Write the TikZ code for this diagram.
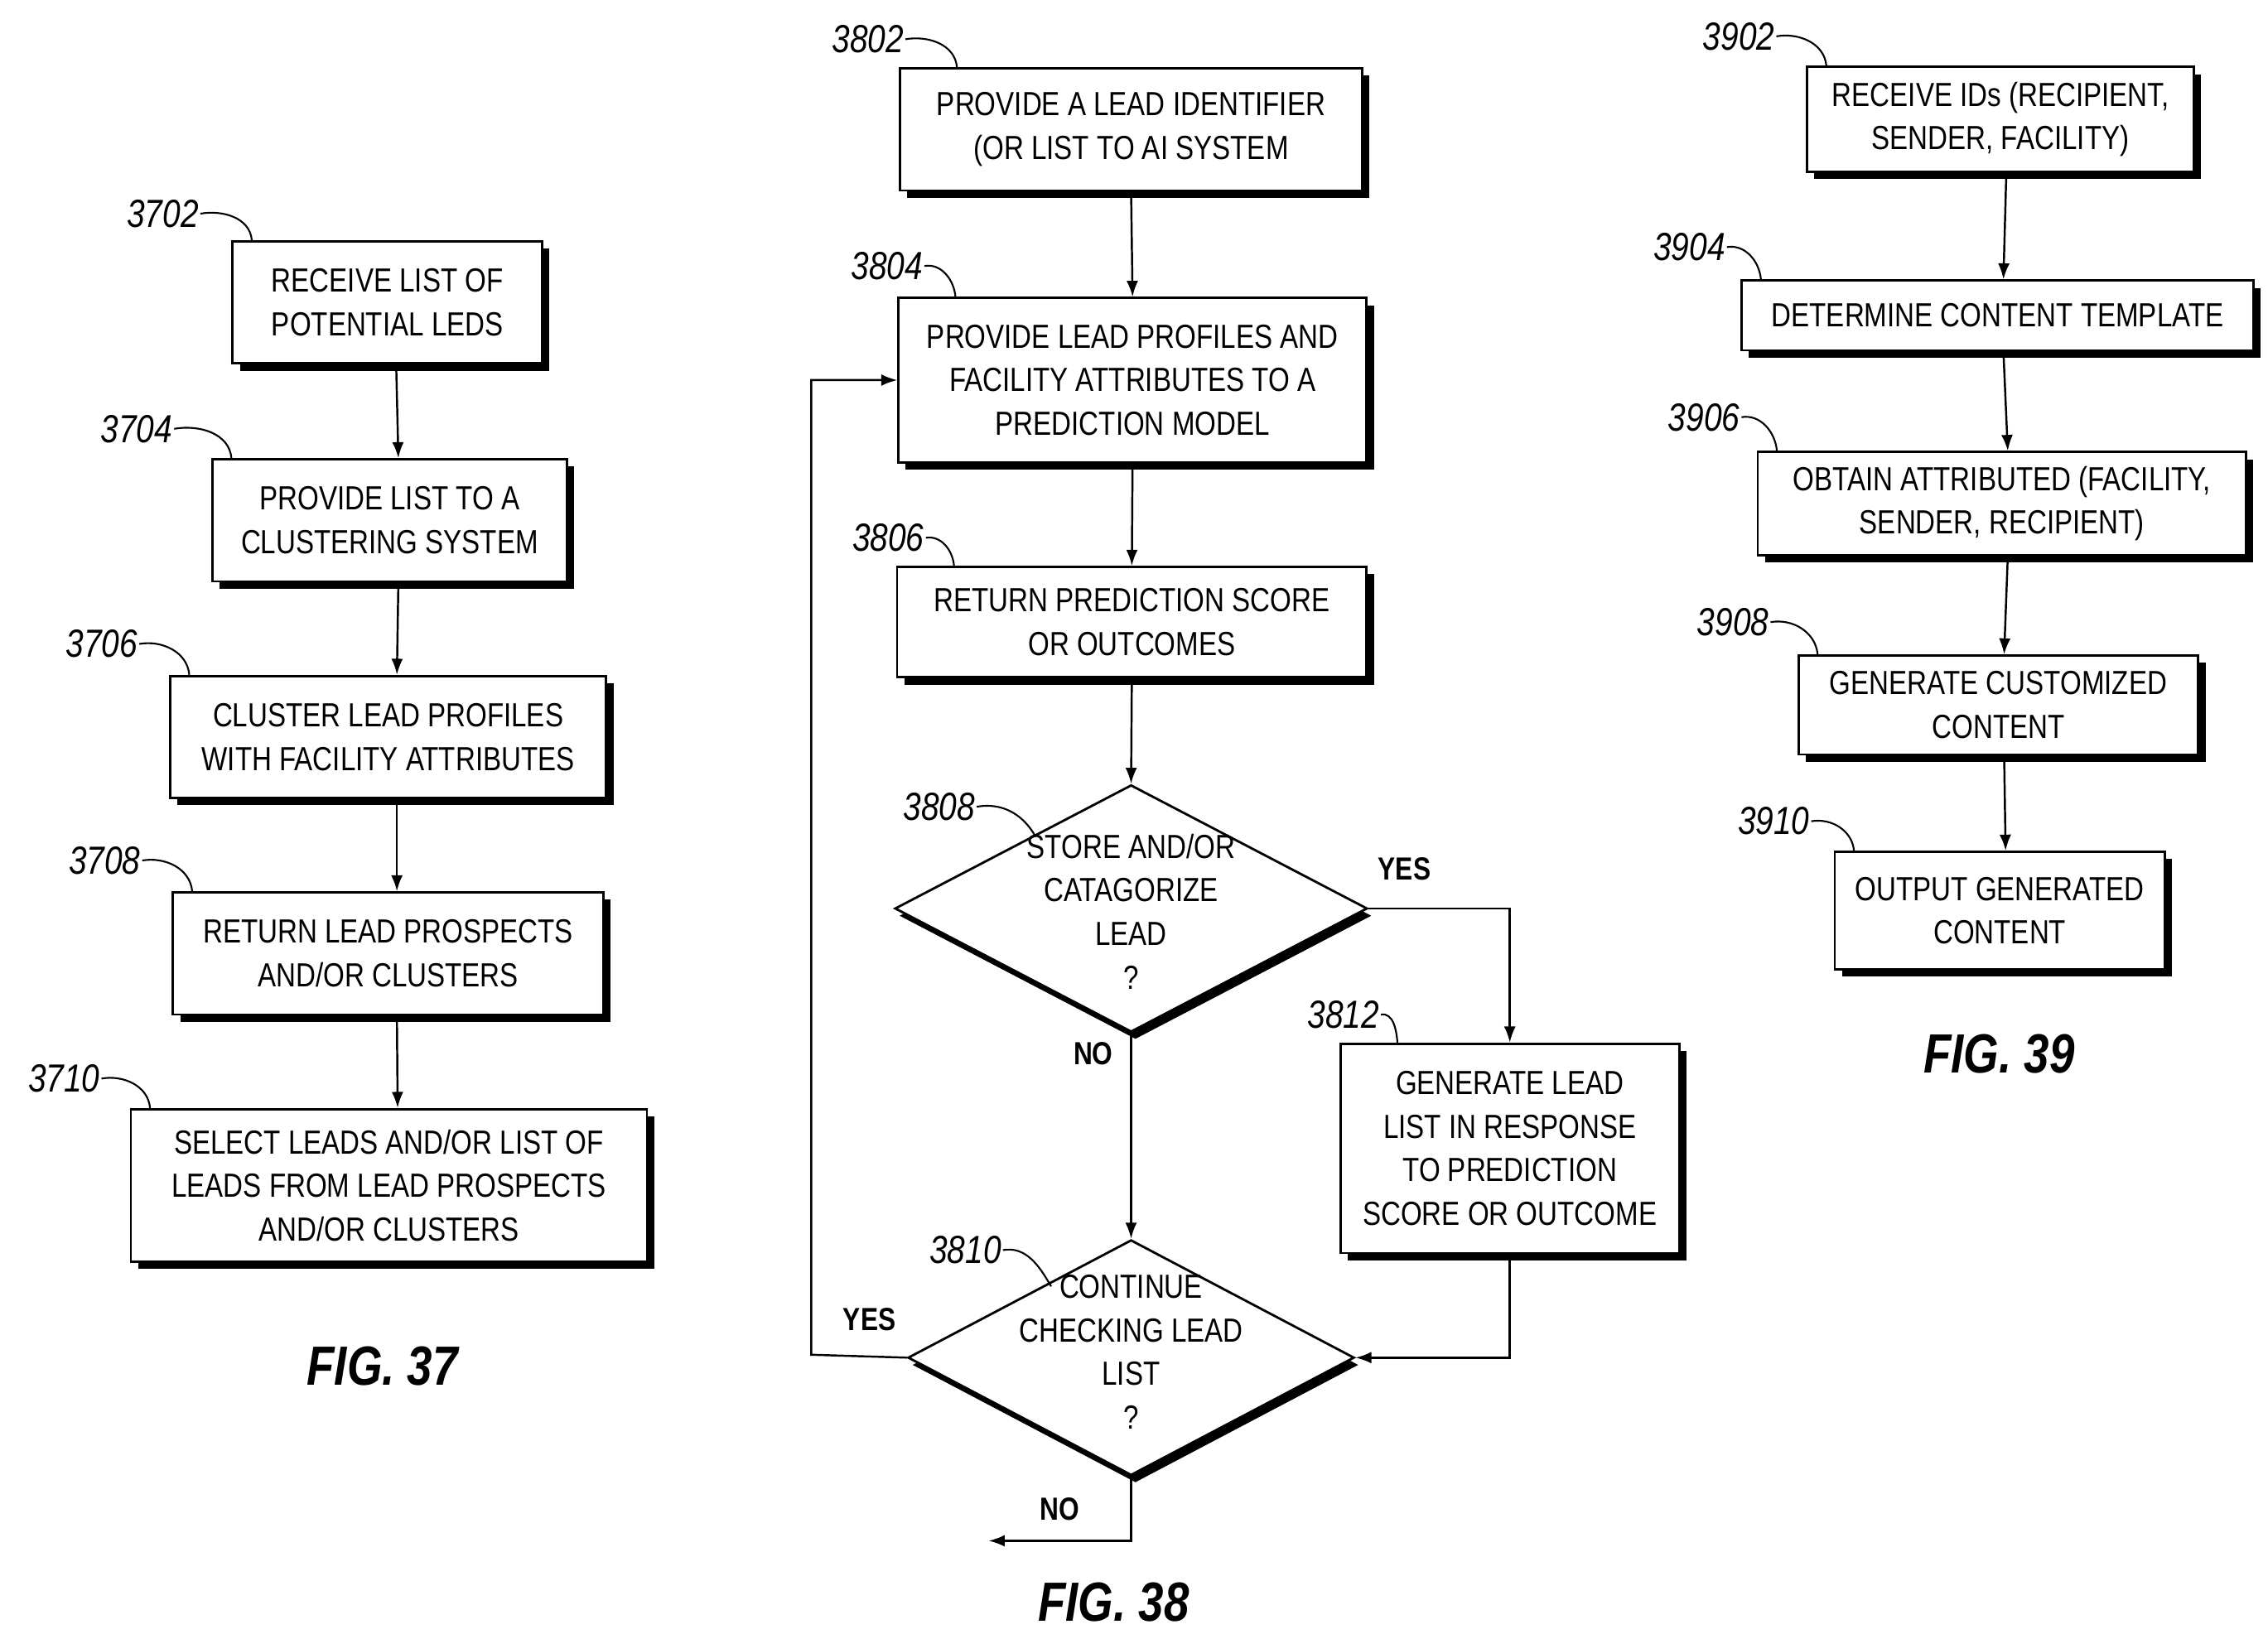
\documentclass[tikz,border=0pt]{standalone}
\usepackage{fontspec}
\setmainfont{Liberation Sans}[FakeStretch=0.82]
\usetikzlibrary{shapes.geometric,shadows,arrows.meta}
\begin{document}
\begin{tikzpicture}[x=1pt,y=-1pt,
  txt/.style={font=\fontsize{23}{30}\selectfont,align=center,inner sep=0pt},
  box/.style={txt,draw,line width=1.6pt,fill=white,rectangle,drop shadow={shadow xshift=5pt,shadow yshift=-5pt,fill=black,opacity=1}},
  dia/.style={txt,draw,line width=1.6pt,fill=white,diamond,drop shadow={shadow xshift=3pt,shadow yshift=-5pt,fill=black,opacity=1}},
  lbl/.style={font=\itshape\fontsize{27}{30}\selectfont,inner sep=1pt},
  fig/.style={font=\bfseries\itshape\fontsize{38}{40}\selectfont},
  yn/.style={font=\bfseries\fontsize{22}{26}\selectfont},
  arr/.style={-{Latex[length=11pt,width=8pt]},line width=1.4pt},
  ln/.style={line width=1.4pt},
  lead/.style={line width=1.2pt}]
\useasboundingbox (0,0) rectangle (1560,1124);
% FIG 37
\node[box,minimum width=213,minimum height=84] (a1) at (266.5,208) {RECEIVE LIST OF\\POTENTIAL LEDS};
\node[box,minimum width=244,minimum height=84] (a2) at (268,358) {PROVIDE LIST TO A\\CLUSTERING SYSTEM};
\node[box,minimum width=300,minimum height=84] (a3) at (267,507) {CLUSTER LEAD PROFILES\\WITH FACILITY ATTRIBUTES};
\node[box,minimum width=296,minimum height=84] (a4) at (267,656) {RETURN LEAD PROSPECTS\\AND/OR CLUSTERS};
\node[box,minimum width=355,minimum height=105] (a5) at (267.5,815.5) {SELECT LEADS AND/OR LIST OF\\LEADS FROM LEAD PROSPECTS\\AND/OR CLUSTERS};
\foreach \p/\q in {a1/a2,a2/a3,a3/a4,a4/a5}{\draw[arr] ([xshift=6pt]\p.south) -- ([xshift=6pt]\q.north);}
\node[lbl] (l1) at (112,147) {3702};
\node[lbl] (l2) at (94,295) {3704};
\node[lbl] (l3) at (70,443) {3706};
\node[lbl] (l4) at (72,592) {3708};
\node[lbl] (l5) at (44,742) {3710};
\foreach \l/\b in {l1/a1,l2/a2,l3/a3,l4/a4,l5/a5}{\draw[lead] (\l.east) to[out=10,in=95] ([xshift=14pt]\b.north west);}
\node[fig] (f37) at (263,940) {FIG. 37};
% FIG 38
\node[box,minimum width=318,minimum height=84] (b1) at (778,89) {PROVIDE A LEAD IDENTIFIER\\(OR LIST TO AI SYSTEM};
\node[box,minimum width=322,minimum height=113] (b2) at (779,261.5) {PROVIDE LEAD PROFILES AND\\FACILITY ATTRIBUTES TO A\\PREDICTION MODEL};
\node[box,minimum width=323,minimum height=76] (b3) at (778.5,428) {RETURN PREDICTION SCORE\\OR OUTCOMES};
\node[dia,minimum width=325,minimum height=170,aspect=1.9] (b4) at (778,625) {};
\node[txt] at (778,627) {STORE AND/OR\\CATAGORIZE\\LEAD\\?};
\node[box,minimum width=233,minimum height=144] (b6) at (1038.5,790) {GENERATE LEAD\\LIST IN RESPONSE\\TO PREDICTION\\SCORE OR OUTCOME};
\node[dia,minimum width=307,minimum height=162,aspect=1.9] (b5) at (778,934) {};
\node[txt] at (778,930) {CONTINUE\\CHECKING LEAD\\LIST\\?};
\draw[arr] (b1.south) -- (b2.north);
\draw[arr] (b2.south) -- (b3.north);
\draw[arr] (b3.south) -- (b4.north);
\draw[arr] (b4.south) -- (b5.north);
\draw[arr] (b4.east) -| (b6.north);
\draw[arr] (b6.south) |- (b5.east);
\coordinate (c1) at (558,932);
\draw[arr] (b5.west) -- (c1) |- (b2.west);
\coordinate (c2) at (778,1060);
\coordinate (c3) at (680,1060);
\draw[arr] (b5.south) -- (c2) -- (c3);
\node[yn] at (966,598) {YES};
\node[yn] at (752,725) {NO};
\node[yn] at (598,908) {YES};
\node[yn] at (729,1038) {NO};
\node[lbl] (m1) at (597,27) {3802};
\node[lbl] (m2) at (610,183) {3804};
\node[lbl] (m3) at (611,370) {3806};
\node[lbl] (m6) at (924,698) {3812};
\foreach \l/\b in {m1/b1,m2/b2,m3/b3,m6/b6}{\draw[lead] (\l.east) to[out=10,in=95] ([xshift=40pt]\b.north west);}
\node[lbl] (m4) at (646,555) {3808};
\draw[lead] (m4.east) to[out=10,in=120] (712,575);
\node[lbl] (m5) at (664,860) {3810};
\draw[lead] (m5.east) to[out=10,in=120] (723,885);
\node[fig] (f38) at (766,1102) {FIG. 38};
% FIG 39
\node[box,minimum width=266,minimum height=72] (d1) at (1376,82) {RECEIVE IDs (RECIPIENT,\\SENDER, FACILITY)};
\node[box,minimum width=352,minimum height=48] (d2) at (1374,217) {DETERMINE CONTENT TEMPLATE};
\node[box,minimum width=336,minimum height=71] (d3) at (1377,346.5) {OBTAIN ATTRIBUTED (FACILITY,\\SENDER, RECIPIENT)};
\node[box,minimum width=275,minimum height=68] (d4) at (1374.5,485) {GENERATE CUSTOMIZED\\CONTENT};
\node[box,minimum width=227,minimum height=81] (d5) at (1375.5,626.5) {OUTPUT GENERATED\\CONTENT};
\foreach \p/\q in {d1/d2,d2/d3,d3/d4,d4/d5}{\draw[arr] ([xshift=4pt]\p.south) -- ([xshift=4pt]\q.north);}
\node[lbl] (n1) at (1196,25) {3902};
\node[lbl] (n2) at (1162,170) {3904};
\node[lbl] (n3) at (1172,287) {3906};
\node[lbl] (n4) at (1192,428) {3908};
\node[lbl] (n5) at (1220,565) {3910};
\foreach \l/\b in {n1/d1,n2/d2,n3/d3,n4/d4,n5/d5}{\draw[lead] (\l.east) to[out=10,in=95] ([xshift=14pt]\b.north west);}
\node[fig] (f39) at (1375,725) {FIG. 39};
\end{tikzpicture}
\end{document}
